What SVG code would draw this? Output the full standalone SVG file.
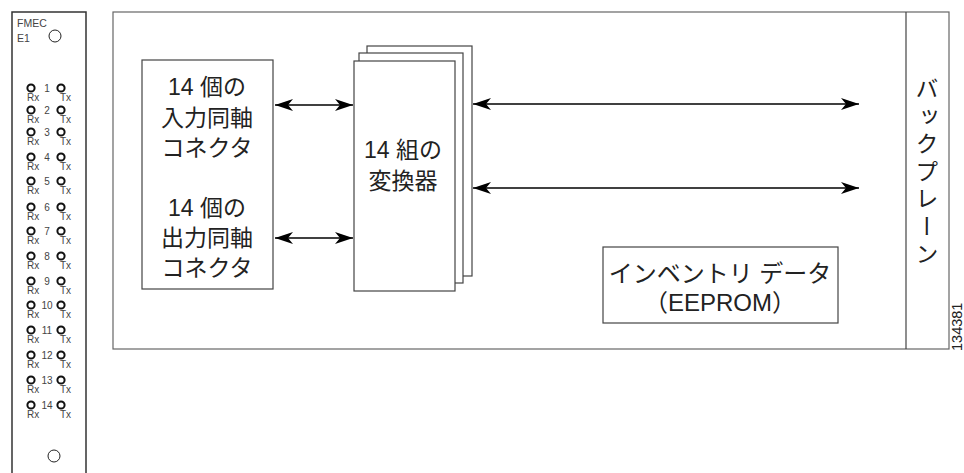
<svg xmlns="http://www.w3.org/2000/svg" width="964" height="473" viewBox="0 0 964 473">
<style>
.box{fill:#fff;stroke:#444;stroke-width:1.2}
.jp{font-family:"Liberation Sans","Noto Sans CJK JP",sans-serif;font-size:23px;fill:#222;text-anchor:middle}
.sm{font-family:"Liberation Sans",sans-serif;font-size:10px;fill:#444}
.port{fill:#fff;stroke:#111;stroke-width:2}
.arr{stroke:#000;stroke-width:1.5;fill:none;marker-start:url(#ah);marker-end:url(#ah)}
</style>
<defs>
<marker id="ah" viewBox="0 0 18 12" refX="18" refY="6" markerWidth="18" markerHeight="12" markerUnits="userSpaceOnUse" orient="auto-start-reverse">
<path d="M0,0 L18,6 L0,12 L5,6 z" fill="#000"/>
</marker>
</defs>
<g id="panel">
<path d="M12,473 V12 H86 V473" fill="#fff" stroke="#333" stroke-width="1.5"/>
<text class="sm" x="17" y="27" style="font-size:10.5px">FMEC</text>
<text class="sm" x="17" y="42" style="font-size:10.5px">E1</text>
<circle cx="55" cy="36" r="6" fill="none" stroke="#222" stroke-width="1"/>
<circle cx="54" cy="456" r="6" fill="none" stroke="#222" stroke-width="1"/>
<g id="ports">
<g transform="translate(0,88)"><circle class="port" cx="31" cy="0" r="3.6"/><circle class="port" cx="61" cy="0" r="3.6"/><text class="sm" x="47" y="3.5" text-anchor="middle">1</text><text class="sm" x="27" y="13">Rx</text><text class="sm" x="71" y="13" text-anchor="end">Tx</text></g>
<g transform="translate(0,110)"><circle class="port" cx="31" cy="0" r="3.6"/><circle class="port" cx="61" cy="0" r="3.6"/><text class="sm" x="47" y="3.5" text-anchor="middle">2</text><text class="sm" x="27" y="13">Rx</text><text class="sm" x="71" y="13" text-anchor="end">Tx</text></g>
<g transform="translate(0,132)"><circle class="port" cx="31" cy="0" r="3.6"/><circle class="port" cx="61" cy="0" r="3.6"/><text class="sm" x="47" y="3.5" text-anchor="middle">3</text><text class="sm" x="27" y="13">Rx</text><text class="sm" x="71" y="13" text-anchor="end">Tx</text></g>
<g transform="translate(0,157)"><circle class="port" cx="31" cy="0" r="3.6"/><circle class="port" cx="61" cy="0" r="3.6"/><text class="sm" x="47" y="3.5" text-anchor="middle">4</text><text class="sm" x="27" y="13">Rx</text><text class="sm" x="71" y="13" text-anchor="end">Tx</text></g>
<g transform="translate(0,181)"><circle class="port" cx="31" cy="0" r="3.6"/><circle class="port" cx="61" cy="0" r="3.6"/><text class="sm" x="47" y="3.5" text-anchor="middle">5</text><text class="sm" x="27" y="13">Rx</text><text class="sm" x="71" y="13" text-anchor="end">Tx</text></g>
<g transform="translate(0,207)"><circle class="port" cx="31" cy="0" r="3.6"/><circle class="port" cx="61" cy="0" r="3.6"/><text class="sm" x="47" y="3.5" text-anchor="middle">6</text><text class="sm" x="27" y="13">Rx</text><text class="sm" x="71" y="13" text-anchor="end">Tx</text></g>
<g transform="translate(0,231)"><circle class="port" cx="31" cy="0" r="3.6"/><circle class="port" cx="61" cy="0" r="3.6"/><text class="sm" x="47" y="3.5" text-anchor="middle">7</text><text class="sm" x="27" y="13">Rx</text><text class="sm" x="71" y="13" text-anchor="end">Tx</text></g>
<g transform="translate(0,256)"><circle class="port" cx="31" cy="0" r="3.6"/><circle class="port" cx="61" cy="0" r="3.6"/><text class="sm" x="47" y="3.5" text-anchor="middle">8</text><text class="sm" x="27" y="13">Rx</text><text class="sm" x="71" y="13" text-anchor="end">Tx</text></g>
<g transform="translate(0,281)"><circle class="port" cx="31" cy="0" r="3.6"/><circle class="port" cx="61" cy="0" r="3.6"/><text class="sm" x="47" y="3.5" text-anchor="middle">9</text><text class="sm" x="27" y="13">Rx</text><text class="sm" x="71" y="13" text-anchor="end">Tx</text></g>
<g transform="translate(0,305)"><circle class="port" cx="31" cy="0" r="3.6"/><circle class="port" cx="61" cy="0" r="3.6"/><text class="sm" x="47" y="3.5" text-anchor="middle">10</text><text class="sm" x="27" y="13">Rx</text><text class="sm" x="71" y="13" text-anchor="end">Tx</text></g>
<g transform="translate(0,330)"><circle class="port" cx="31" cy="0" r="3.6"/><circle class="port" cx="61" cy="0" r="3.6"/><text class="sm" x="47" y="3.5" text-anchor="middle">11</text><text class="sm" x="27" y="13">Rx</text><text class="sm" x="71" y="13" text-anchor="end">Tx</text></g>
<g transform="translate(0,355)"><circle class="port" cx="31" cy="0" r="3.6"/><circle class="port" cx="61" cy="0" r="3.6"/><text class="sm" x="47" y="3.5" text-anchor="middle">12</text><text class="sm" x="27" y="13">Rx</text><text class="sm" x="71" y="13" text-anchor="end">Tx</text></g>
<g transform="translate(0,380)"><circle class="port" cx="31" cy="0" r="3.6"/><circle class="port" cx="61" cy="0" r="3.6"/><text class="sm" x="47" y="3.5" text-anchor="middle">13</text><text class="sm" x="27" y="13">Rx</text><text class="sm" x="71" y="13" text-anchor="end">Tx</text></g>
<g transform="translate(0,405)"><circle class="port" cx="31" cy="0" r="3.6"/><circle class="port" cx="61" cy="0" r="3.6"/><text class="sm" x="47" y="3.5" text-anchor="middle">14</text><text class="sm" x="27" y="13">Rx</text><text class="sm" x="71" y="13" text-anchor="end">Tx</text></g>
</g>
</g>
<g id="card">
<rect class="box" x="113" y="12" width="836" height="337" style="stroke:#666"/>
</g>
<g id="backplane">
<line x1="906" y1="12" x2="906" y2="349" stroke="#444" stroke-width="1.2"/>
<text class="jp" x="927" y="77" style="writing-mode:vertical-rl;text-anchor:start;letter-spacing:4.5px;font-size:23px;font-family:'Noto Sans CJK JP',sans-serif">バックプレーン</text>
</g>
<g id="connectors-box">
<rect class="box" x="142" y="60" width="131" height="229"/>
<text class="jp" x="207" y="95">14 個の</text>
<text class="jp" x="207" y="126">入力同軸</text>
<text class="jp" x="207" y="156">コネクタ</text>
<text class="jp" x="207" y="216">14 個の</text>
<text class="jp" x="207" y="246">出力同軸</text>
<text class="jp" x="207" y="276">コネクタ</text>
</g>
<g id="converters">
<rect class="box" x="367" y="46" width="105" height="230"/>
<rect class="box" x="359" y="53" width="104" height="230"/>
<rect class="box" x="354" y="61" width="101" height="230"/>
<text class="jp" x="403" y="158">14 組の</text>
<text class="jp" x="403" y="189">変換器</text>
</g>
<g id="inventory">
<rect class="box" x="603" y="247" width="235" height="76"/>
<text class="jp" x="720" y="282" style="font-size:24px">インベントリ データ</text>
<text class="jp" x="720" y="311" style="font-size:24px">（EEPROM）</text>
</g>
<g id="connectors">
<line class="arr" x1="275" y1="105" x2="353" y2="105"/>
<line class="arr" x1="275" y1="238" x2="353" y2="238"/>
<line class="arr" x1="473" y1="104" x2="859" y2="104"/>
<line class="arr" x1="473" y1="188" x2="859" y2="188"/>
</g>
<text x="962" y="351" transform="rotate(-90 962 351)" font-family="Liberation Sans,sans-serif" font-size="14.5" fill="#222">134381</text>
</svg>
